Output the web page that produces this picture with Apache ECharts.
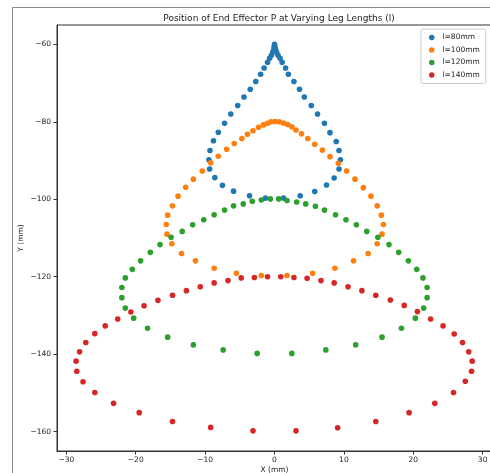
<!DOCTYPE html>
<html>
<head>
<meta charset="utf-8">
<script src="https://cdn.jsdelivr.net/npm/echarts@6/dist/echarts.min.js"></script>
<style>
html,body{margin:0;padding:0;background:#fff;}
#chart{width:490px;height:473px;}
</style>
</head>
<body>
<div id="chart"></div>
<script>
// ---- data ----
const seriesNames = ['l=80mm', 'l=100mm', 'l=120mm', 'l=140mm'];
const xTicks = [-30, -20, -10, 0, 10, 20, 30];
const yTicks = [-160, -140, -120, -100, -80, -60];

const l80 = [
 [0.0,-60.0],[-0.05,-60.6],[0.05,-60.6],[-0.1,-61.3],[0.15,-61.3],[-0.25,-62.0],[0.3,-62.0],
 [-0.45,-62.8],[0.5,-62.8],[-0.7,-63.6],[0.8,-63.6],[-1.0,-64.6],[1.1,-64.6],[-1.5,-66.1],[1.6,-66.1],
 [-2.0,-67.7],[2.0,-67.7],[-2.7,-69.6],[2.8,-69.6],[-3.5,-71.6],[3.6,-71.6],[-4.4,-73.6],[4.3,-73.6],
 [-5.3,-75.8],[5.3,-75.8],[-6.3,-78.0],[6.2,-78.0],[-7.2,-80.4],[7.2,-80.4],[-8.1,-82.7],[8.0,-82.8],
 [-8.8,-84.9],[8.9,-85.1],[-9.3,-87.4],[9.3,-87.4],[-9.45,-89.8],[9.5,-89.8],[-9.35,-92.2],[9.3,-92.2],
 [-8.6,-94.4],[8.6,-94.5],[-7.5,-96.4],[7.5,-96.3],[-5.9,-97.9],[5.8,-98.0],[-3.6,-99.1],[3.7,-99.1],
 [-1.3,-99.7],[1.3,-99.7]
];
const l100 = [
 [-12.8,-96.9],[-11.7,-94.8],[-10.4,-92.7],[-9.2,-90.6],[-8.1,-88.9],[-6.9,-87.1],[-5.8,-85.6],
 [-4.7,-84.3],[-3.9,-83.2],[-3.1,-82.3],[-2.3,-81.4],[-1.6,-80.8],[-1.0,-80.4],[-0.5,-80.0],
 [0.1,-79.9],[0.7,-80.0],[1.3,-80.3],[1.9,-80.7],[2.5,-81.3],[3.1,-82.1],[3.9,-83.1],[4.8,-84.3],
 [5.8,-85.8],[6.9,-87.3],[8.0,-89.0],[9.2,-90.7],[10.4,-92.7],[11.6,-94.8],[12.8,-97.0],
 [-13.9,-99.2],[-14.7,-101.7],[-15.4,-104.1],[-15.6,-106.5],[-15.5,-109.0],[-14.8,-111.5],
 [-13.4,-114.0],[-11.4,-115.9],[-8.7,-117.8],[-5.5,-119.1],[-1.9,-119.7],
 [1.8,-119.7],[5.5,-119.1],[8.7,-117.8],[11.4,-115.9],[13.5,-114.0],[14.8,-111.5],[15.5,-109.0],
 [15.7,-106.5],[15.4,-104.1],[14.8,-101.7],[13.9,-99.2]
];
const l120 = [
 [-10.2,-105.3],[-8.7,-104.0],[-7.2,-102.8],[-5.9,-101.7],[-4.5,-101.2],[-3.2,-100.5],[-1.9,-100.2],
 [-0.6,-99.9],[0.6,-99.9],[1.8,-100.3],[3.2,-100.7],[4.5,-101.2],[5.9,-101.8],[7.2,-102.8],
 [8.8,-104.0],[10.3,-105.3],
 [-11.8,-106.6],[-13.3,-108.3],[-14.9,-109.8],[-16.5,-111.7],[-17.9,-113.7],[-19.3,-115.9],
 [-20.5,-118.1],[-21.5,-120.3],[-22.0,-122.8],[-22.0,-125.4],[-21.5,-128.1],[-20.3,-130.7],
 [-18.3,-133.3],[-15.4,-135.6],[-11.7,-137.6],[-7.4,-138.9],[-2.5,-139.8],
 [2.5,-139.8],[7.4,-138.9],[11.7,-137.6],[15.5,-135.6],[18.3,-133.3],[20.3,-130.7],[21.5,-128.1],
 [22.0,-125.4],[22.0,-122.8],[21.4,-120.3],[20.5,-118.1],[19.3,-115.9],[17.9,-113.7],[16.5,-111.7],
 [14.9,-109.8],[13.3,-108.3],[11.8,-106.6]
];
const l140 = [
 [-28.6,-141.8],[-28.5,-144.4],[-28.1,-139.4],[-27.6,-147.1],[-27.2,-137.0],[-25.9,-134.7],
 [-25.9,-149.9],[-24.4,-132.7],[-23.2,-152.7],[-22.6,-130.9],[-20.7,-129.1],[-19.5,-155.1],
 [-18.8,-127.5],[-16.8,-126.1],[-14.7,-124.8],[-14.7,-157.4],[-12.7,-123.6],[-10.7,-122.6],
 [-9.2,-158.9],[-8.7,-121.6],[-6.7,-121.0],[-4.8,-120.3],[-3.1,-159.8],[-2.9,-120.2],
 [-1.0,-120.0],[0.9,-120.0],[2.8,-120.2],[4.7,-120.4],[6.7,-121.0],[8.6,-121.6],[10.6,-122.6],
 [12.6,-123.6],[14.6,-124.8],[16.7,-126.0],[18.7,-127.4],[20.6,-129.0],[22.5,-130.9],[24.3,-132.7],
 [25.9,-134.8],[27.1,-137.0],[28.0,-139.4],[28.5,-141.8],[28.4,-144.4],[27.5,-147.0],[25.8,-149.9],
 [23.1,-152.7],[19.4,-155.1],[14.6,-157.4],[9.1,-159.0],[3.1,-159.8]
];
const seriesData = [l80, l100, l120, l140];
const colors = ['#1f77b4', '#ff7f0e', '#2ca02c', '#d62728'];

// ---- chart ----
const FONT = 'DejaVu Sans';
const chart = echarts.init(document.getElementById('chart'), null, {renderer: 'canvas'});
const option = {
  animation: false,
  backgroundColor: '#ffffff',
  color: colors,
  textStyle: {fontFamily: FONT},
  title: {
    text: 'Position of End Effector P at Varying Leg Lengths (l)',
    left: 274, top: 9, textAlign: 'center',
    textStyle: {fontFamily: FONT, fontSize: 9, fontWeight: 'normal', color: '#222'}
  },
  graphic: [{
    type: 'rect', z: -10, silent: true,
    shape: {x: 12.5, y: 7.5, width: 700, height: 700},
    style: {fill: 'none', stroke: '#8a8a8a', lineWidth: 1}
  }],
  legend: {
    orient: 'vertical',
    left: 421, top: 29,
    padding: [4, 6, 4, 8],
    itemWidth: 5.5, itemHeight: 5.5, itemGap: 3.5,
    icon: 'circle',
    backgroundColor: 'rgba(255,255,255,0.8)',
    borderColor: '#cccccc', borderWidth: 1, borderRadius: 2,
    textStyle: {fontFamily: FONT, fontSize: 7.5, lineHeight: 9, color: '#222', padding: [0, 0, 0, 3]},
    data: seriesNames
  },
  grid: {
    left: 57, top: 25, width: 435, height: 426,
    outerBoundsMode: 'none', containLabel: false,
    show: true, borderColor: '#333', borderWidth: 1, backgroundColor: 'transparent'
  },
  xAxis: {
    type: 'value', min: -31.35, max: 31.35,
    name: 'X (mm)', nameLocation: 'middle', nameGap: 15, nameMoveOverlap: false,
    nameTextStyle: {fontFamily: FONT, fontSize: 7.5, color: '#222'},
    axisLine: {show: true, onZero: false, lineStyle: {color: '#333', width: 1}},
    axisTick: {show: true, length: 3.5, lineStyle: {color: '#333'}, customValues: xTicks},
    axisLabel: {fontFamily: FONT, fontSize: 7.5, color: '#222', margin: 5,
      customValues: xTicks, formatter: v => (v < 0 ? '\u2212' + Math.abs(v) : String(v))},
    splitLine: {show: false}
  },
  yAxis: {
    type: 'value', min: -165, max: -55,
    name: 'Y (mm)', nameLocation: 'middle', nameGap: 32, nameMoveOverlap: false,
    nameTextStyle: {fontFamily: FONT, fontSize: 7.5, color: '#222'},
    axisLine: {show: true, onZero: false, lineStyle: {color: '#333', width: 1}},
    axisTick: {show: true, length: 3.5, lineStyle: {color: '#333'}, customValues: yTicks},
    axisLabel: {fontFamily: FONT, fontSize: 7.5, color: '#222', margin: 6,
      customValues: yTicks, formatter: v => (v < 0 ? '\u2212' + Math.abs(v) : String(v))},
    splitLine: {show: false}
  },
  series: seriesNames.map((n, i) => ({
    name: n, type: 'scatter', data: seriesData[i],
    symbol: 'circle', symbolSize: 5.6,
    itemStyle: {color: colors[i], opacity: 1},
    emphasis: {disabled: true}
  }))
};
chart.setOption(option);
</script>
</body>
</html>
